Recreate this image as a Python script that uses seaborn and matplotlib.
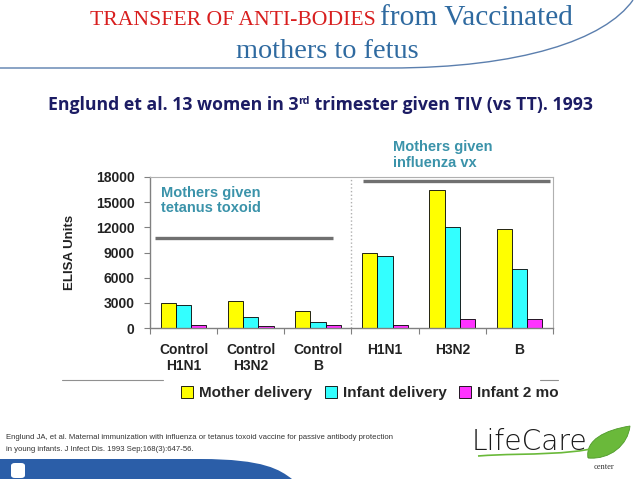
import matplotlib
matplotlib.use("Agg")
import matplotlib.pyplot as plt
import seaborn as sns
import pandas as pd
from matplotlib.path import Path
from matplotlib.patches import PathPatch, FancyBboxPatch
from matplotlib.lines import Line2D

# chart data
groups = ["Control\nH1N1", "Control\nH3N2", "Control\nB", "H1N1", "H3N2", "B"]
series = ["Mother delivery", "Infant delivery", "Infant 2 mo"]
mother_delivery = [2950, 3200, 2050, 9000, 16500, 11850]
infant_delivery = [2700, 1300, 700, 8550, 12000, 7050]
infant_2mo = [300, 200, 300, 350, 1050, 1050]
yticks = [0, 3000, 6000, 9000, 12000, 15000, 18000]
colors = ["#FFFF00", "#33FFFF", "#FF33FF"]

W, H = 638, 479


def px(x, y):
    # pixel coords (top-left origin) -> figure fraction
    return x / W, 1 - y / H


def fit(t, width_px, renderer):
    # scale a text so it spans a given width in pixels
    w = t.get_window_extent(renderer).width
    t.set_fontsize(t.get_fontsize() * width_px / w)


sns.set_theme(style="white")
plt.rcParams["font.family"] = ["Liberation Sans", "DejaVu Sans"]

fig = plt.figure(figsize=(W / 100, H / 100), dpi=100)
fig.patch.set_facecolor("white")
renderer = fig.canvas.get_renderer()

# ---- bar chart ----
rows = []
for g, a, b, c in zip(groups, mother_delivery, infant_delivery, infant_2mo):
    rows.append((g, series[0], a))
    rows.append((g, series[1], b))
    rows.append((g, series[2], c))
df = pd.DataFrame(rows, columns=["group", "series", "value"])

l, b = px(150, 328)
r, t = px(553, 177)
ax = fig.add_axes([l, b, r - l, t - b])
sns.barplot(data=df, x="group", y="value", hue="series", order=groups,
            hue_order=series, palette=colors, width=0.68, edgecolor="black",
            linewidth=0.6, saturation=1, ax=ax)

ax.set_xlim(-0.5, 5.5)
ax.set_ylim(0, 18000)
ax.set_yticks(yticks)
ax.set_yticklabels([str(v) for v in yticks], fontsize=10, fontweight="bold",
                   color="#222222")
ax.set_xticks(range(len(groups)))
ax.set_xticklabels(groups, fontsize=10, fontweight="bold", color="#222222")
ax.set_xticks([i + 0.5 for i in range(-1, len(groups))], minor=True)
ax.tick_params(axis="x", which="major", length=0, pad=11)
ax.tick_params(axis="x", which="minor", length=4, width=0.8, color="#808080",
               direction="out", bottom=True)
ax.tick_params(axis="y", length=4, width=0.8, color="#808080", left=True,
               pad=7)
ax.set_xlabel("")
ax.set_ylabel("")
for s in ["left", "bottom"]:
    ax.spines[s].set_color("#808080")
    ax.spines[s].set_linewidth(1.0)
for s in ["top", "right"]:
    ax.spines[s].set_color("#b0b0b0")
    ax.spines[s].set_linewidth(0.8)

# separator and group bars
ax.axvline(2.5, color="#b0b0b0", linestyle=":", linewidth=1)
ax.plot([-0.43, 2.23], [10750, 10750], color="#707070", linewidth=2.4,
        solid_capstyle="butt")
ax.plot([2.67, 5.46], [17520, 17520], color="#707070", linewidth=2.4,
        solid_capstyle="butt")
ax.text(-0.34, 16950, "Mothers given\ntetanus toxoid", fontsize=10.5,
        fontweight="bold", color="#3b93aa", va="top", linespacing=1.15)
ax.text(3.12, 22400, "Mothers given\ninfluenza vx", fontsize=10.5,
        fontweight="bold", color="#3b93aa", va="top", linespacing=1.15,
        clip_on=False)

handles, labels = ax.get_legend_handles_labels()
ax.legend_.remove()
fig.legend(handles, labels, loc="center", bbox_to_anchor=px(370, 393),
           ncol=3, frameon=False, handlelength=0.8, handleheight=0.8,
           handletextpad=0.4, columnspacing=0.8,
           prop={"size": 11, "weight": "bold"})

fig.text(*px(70, 252), "ELISA Units", rotation=90, fontsize=9.5,
         fontweight="bold", color="#222222", ha="center", va="center")

# thin slide lines under the x labels
fig.add_artist(Line2D([62 / W, 163 / W], [1 - 380 / H] * 2, color="#909090",
                      linewidth=0.8))
fig.add_artist(Line2D([540 / W, 558 / W], [1 - 380 / H] * 2, color="#909090",
                      linewidth=0.8))

# ---- slide title ----
t1 = fig.text(*px(90, 25), "TRANSFER OF ANTI-BODIES", fontsize=18,
              family="Liberation Serif", color="#d81e1e", va="baseline")
fit(t1, 285, renderer)
t2 = fig.text(*px(380, 25), "from Vaccinated", fontsize=18,
              family="Liberation Serif", color="#2f6aa0", va="baseline")
fit(t2, 193, renderer)
t3 = fig.text(*px(236, 58), "mothers to fetus", fontsize=18,
              family="Liberation Serif", color="#2f6aa0", va="baseline")
fit(t3, 182, renderer)

# curved rule under title
verts = [px(0, 68), px(390, 68), px(520, 68), px(605, 40), px(633, 0)]
codes = [Path.MOVETO, Path.LINETO, Path.CURVE4, Path.CURVE4, Path.CURVE4]
fig.add_artist(PathPatch(Path(verts, codes), transform=fig.transFigure,
                         facecolor="none", edgecolor="#5b7fae", linewidth=1))

# subtitle with superscript
navy = "#1c1c64"
s1 = fig.text(*px(48, 110), "Englund et al. 13 women in 3", fontsize=15,
              fontweight="bold", family="Open Sans", color=navy,
              va="baseline")
s2 = fig.text(0, 0, "rd", fontsize=9, fontweight="bold", family="Open Sans",
              color=navy, va="baseline")
s3 = fig.text(0, 0, " trimester given TIV (vs TT). 1993", fontsize=15,
              fontweight="bold", family="Open Sans", color=navy,
              va="baseline")
ws = [s.get_window_extent(renderer).width for s in (s1, s2, s3)]
k = 545 / sum(ws)
for s in (s1, s2, s3):
    s.set_fontsize(s.get_fontsize() * k)
ws = [s.get_window_extent(renderer).width for s in (s1, s2, s3)]
s2.set_position(px(48 + ws[0], 104))
s3.set_position(px(48 + ws[0] + ws[1], 110))

# ---- footer ----
fig.text(*px(6, 439), "Englund JA, et al. Maternal immunization with influenza "
         "or tetanus toxoid vaccine for passive antibody protection",
         fontsize=5.6, color="#333333", va="baseline")
fig.text(*px(6, 451), "in young infants. J Infect Dis. 1993 Sep;168(3):647-56.",
         fontsize=5.6, color="#333333", va="baseline")

band = [px(0, 459), px(200, 459), px(265, 459), px(280, 470), px(292, 479),
        px(0, 479), px(0, 459)]
bcodes = [Path.MOVETO, Path.LINETO, Path.CURVE4, Path.CURVE4, Path.CURVE4,
          Path.LINETO, Path.CLOSEPOLY]
fig.add_artist(PathPatch(Path(band, bcodes), transform=fig.transFigure,
                         facecolor="#2b5ea8", edgecolor="none"))
fig.add_artist(FancyBboxPatch(px(11, 478), 14 / W, 15 / H,
                              boxstyle="round,pad=0,rounding_size=0.006",
                              transform=fig.transFigure, facecolor="white",
                              edgecolor="none"))

# logo
lg = fig.text(*px(472, 450), "LifeCare", fontsize=20, family="DejaVu Sans",
              fontweight="light", color="#1a1a1a", va="baseline")
fit(lg, 116, renderer)
fig.text(*px(594, 469), "center", fontsize=6, family="Liberation Serif",
         color="#333333", va="baseline")
leaf = [px(588, 458), px(585, 440), px(605, 430), px(630, 426),
        px(628, 445), px(610, 460), px(588, 458)]
lcodes = [Path.MOVETO, Path.CURVE4, Path.CURVE4, Path.CURVE4,
          Path.CURVE4, Path.CURVE4, Path.CURVE4]
fig.add_artist(PathPatch(Path(leaf, lcodes), transform=fig.transFigure,
                         facecolor="#6ab93a", edgecolor="#4e9a2a",
                         linewidth=0.6))
swoosh = [px(478, 456), px(530, 452), px(575, 458), px(625, 440)]
fig.add_artist(PathPatch(Path(swoosh, [Path.MOVETO, Path.CURVE4, Path.CURVE4,
                                       Path.CURVE4]),
                         transform=fig.transFigure, facecolor="none",
                         edgecolor="#6ab93a", linewidth=1.2))

fig.savefig("out.png", dpi=100, facecolor="white")
